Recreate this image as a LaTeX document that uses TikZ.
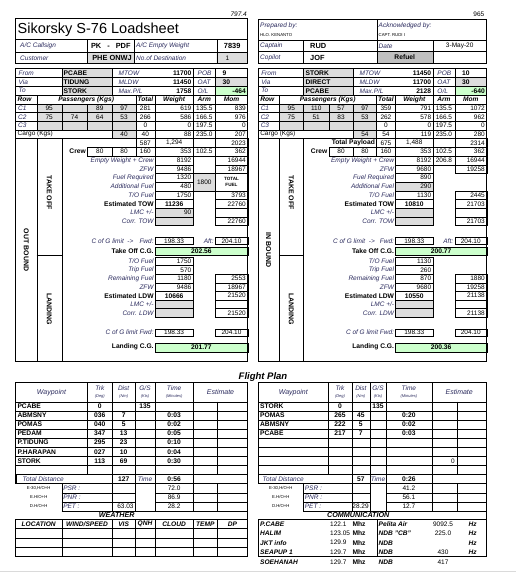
\documentclass[tikz,border=0pt]{standalone}
\usepackage{fontspec}
\setmainfont{Liberation Sans}
\usepackage{tikz}
\usetikzlibrary{positioning}
\usepackage{xcolor}
\definecolor{cellgray}{HTML}{DDDDDD}
\definecolor{refuelgray}{HTML}{C0C0C0}
\definecolor{cggreen}{HTML}{CCFFCC}
\definecolor{lblblue}{HTML}{2B2B5E}
\definecolor{pagegray}{HTML}{DADADA}

% grid of one loadsheet half (left coordinates)
\newcommand{\lowergrid}{%
  \fill[cellgray] (61.7,69) rectangle (112.3,95.1);
  \fill[cellgray] (215.3,77.7) rectangle (247.7,86.4);
  \fill[cggreen] (215.3,86.4) rectangle (247.7,95.1);
  \fill[cellgray] (36.7,103.8) rectangle (135.7,129.9);
  \fill[cellgray] (112.3,129.9) rectangle (135.7,138.6);
  \fill[cellgray] (155,208.2) rectangle (193.3,225.6);
  \fill[cellgray] (155,300) rectangle (193.3,317.2);
  \fill[cggreen] (155,246.7) rectangle (247.7,255.3);
  \fill[cggreen] (155,342.7) rectangle (247.7,351.7);
  % route and passenger rows
  \foreach \y in {77.7, 86.4, 95.1, 103.8, 112.5, 121.2, 129.9, 138.6}
    \draw[cell] (15.7,\y) -- (247.7,\y);
  \draw[cell] (61.7,69) -- (61.7,95.1) (112.3,69) -- (112.3,95.1);
  \foreach \x in {193.3, 215.3} \draw[cell] (\x,69) -- (\x,138.6);
  \foreach \x in {135.7, 155} \draw[cell] (\x,95.1) -- (\x,138.6);
  \draw[cell] (36.7,95.1) -- (36.7,129.9);
  \foreach \x in {61.7, 87.3} \draw[cell] (\x,103.8) -- (\x,129.9);
  \draw[cell] (112.3,103.8) -- (112.3,138.6);
  % take off / landing columns
  \draw[cell] (36.7,138.6) -- (36.7,361.7) (61.7,138.6) -- (61.7,361.7)
    (36.7,255.3) -- (61.7,255.3);
  % payload and crew boxes
  \draw[cell] (135.7,138.6) rectangle (247.7,147.3) (87.3,147.3) rectangle (247.7,156);
  \foreach \x in {155, 193.3, 215.3} \draw[cell] (\x,138.6) -- (\x,156);
  \foreach \x in {112.3, 135.7} \draw[cell] (\x,147.3) -- (\x,156);
  % take off boxes
  \foreach \i in {10,...,17}
    \draw[cell] (155,{69+8.7*\i}) rectangle (193.3,{77.7+8.7*\i});
  \foreach \i in {10,11,14,15,16,17}
    \draw[cell] (215.3,{69+8.7*\i}) rectangle (247.7,{77.7+8.7*\i});
  \draw[cell] (155,237.3) rectangle (193.3,244.5) (215.3,237.3) rectangle (247.7,244.5);
  \draw[cell] (155,246.7) rectangle (247.7,255.3);
  % landing boxes
  \foreach \k in {0,...,6}
    \draw[cell] (155,{257+8.6*\k}) rectangle (193.3,{265.6+8.6*\k});
  \foreach \k in {2,...,6}
    \draw[cell] (215.3,{257+8.6*\k}) rectangle (247.7,{265.6+8.6*\k});
  \draw[cell] (155,328.8) rectangle (193.3,336.5) (215.3,328.8) rectangle (247.7,336.5);
  \draw[cell] (155,342.7) rectangle (247.7,351.7);
  \draw[frame] (15.7,69) rectangle (247.7,361.7);
}

% labels of one loadsheet half
\newcommand{\lowerlabels}[1]{%
  \foreach \n/\y/\a/\b/\c in {1/73.35/From/MTOW/POB, 2/82.05/Via/MLDW/OAT,
      3/90.75/To/{Max.P/L}/{O/L}} {
    \node[lab, anchor=west] (#1route\n) at (18,\y) {\a};
    \node[lab, anchor=west] (#1limit\n) at (118,\y) {\b};
    \node[lab, anchor=west] (#1extra\n) at (197,\y) {\c};
  }
  \node[bit, anchor=west] (#1row) at (17,99.45) {Row};
  \node[bit] (#1pax) at (86.2,99.45) {Passengers (Kgs)};
  \node[bit] (#1tot) at (145.35,99.45) {Total};
  \node[bit] (#1wt) at (174.15,99.45) {Weight};
  \node[bit] (#1arm) at (204.3,99.45) {Arm};
  \node[bit] (#1mom) at (231.5,99.45) {Mom};
  \foreach \n/\y in {1/108.15, 2/116.85, 3/125.55}
    \node[lab, anchor=west] (#1cabin\n) at (17.5,\y) {C\n};
  \node[txt, anchor=west] (#1cargo) at (17,134.25) {Cargo (Kgs)};
  \node[bld, anchor=east] (#1crew) at (86.5,151.65) {Crew};
  % take off
  \foreach \n/\t in {10/Empty Weight + Crew, 11/ZFW, 12/Fuel Required,
      13/Additional Fuel, 14/{T/O Fuel}, 16/{LMC +/-}, 17/Corr. TOW}
    \node[lab, anchor=east] (#1to\n) at (154.3,{73.35+8.7*\n}) {\t};
  \node[bld, anchor=east] (#1to15) at (154.3,203.85) {Estimated TOW};
  \node[lab, anchor=west] (#1cglim) at (91,240.9) {C of G limit \ ->};
  \node[lab, anchor=east] (#1fwd) at (154.3,240.9) {Fwd:};
  \node[lab, anchor=east] (#1aft) at (214.3,240.9) {Aft:};
  \node[bld, anchor=east] (#1tocg) at (154.3,251) {Take Off C.G.};
  % landing
  \foreach \n/\t in {0/{T/O Fuel}, 1/Trip Fuel, 2/Remaining Fuel, 3/ZFW,
      5/{LMC +/-}, 6/Corr. LDW}
    \node[lab, anchor=east] (#1ld\n) at (154.3,{261.3+8.6*\n}) {\t};
  \node[bld, anchor=east] (#1ld4) at (154.3,295.7) {Estimated LDW};
  \node[lab, anchor=east] (#1ldlim) at (154.3,332.65) {C of G limit Fwd:};
  \node[bld, anchor=east] (#1ldcg) at (154.3,347.2) {Landing C.G.};
  \node[vlab] (#1tovert) at (49.2,192.5) {TAKE OFF};
  \node[vlab] (#1ldvert) at (49.2,309) {LANDING};
}

% values that both halves share
\newcommand{\fixedvalues}[1]{%
  \foreach \n/\x/\t in {a/99.8/80, b/124/80, c/145.35/160}
    \node[txt] (#1crew\n) at (\x,151.65) {\t};
  \node[txt, anchor=east] (#1crewwt) at (192,151.65) {353};
  \node[txt] (#1crewarm) at (204.3,151.65) {102.5};
  \node[txt, anchor=east] (#1crewmom) at (246.5,151.65) {362};
  \foreach \n/\y in {to/240.9, ld/332.65} {
    \node[txt] (#1fwd\n) at (174.15,\y) {198.33};
    \node[txt] (#1aft\n) at (231.5,\y) {204.10};
  }
}

\newcommand{\routevalues}[3]{%
  \foreach \n/\y/\nm/\wt/\pob in {#2} {
    \node[bld, anchor=west] (#1name\n) at (63,\y) {\nm};
    \node[bld, anchor=east] (#1lim\n) at (192,\y) {\wt};
    \node[bld, anchor=west] (#1pob\n) at (222,\y) {\pob};
  }
  \node[bld, anchor=east] (#1ol) at (246.5,90.75) {#3};
}

\newcommand{\paxvalues}[2]{%
  \foreach \n/\y/\pa/\pb/\pc/\pd/\ptot/\pwt/\parm/\pmom in {#2} {
    \node[txt] (#1pa\n) at (49.2,\y) {\pa};
    \node[txt] (#1pb\n) at (74.5,\y) {\pb};
    \node[txt] (#1pc\n) at (99.8,\y) {\pc};
    \node[txt] (#1pd\n) at (124,\y) {\pd};
    \node[txt] (#1ptot\n) at (145.35,\y) {\ptot};
    \node[txt, anchor=east] (#1pwt\n) at (192,\y) {\pwt};
    \node[txt] (#1parm\n) at (204.3,\y) {\parm};
    \node[txt, anchor=east] (#1pmom\n) at (246.5,\y) {\pmom};
  }
}

% flight plan grid: 8 column edges, then left edge of PSR labels
\newcommand{\plangrid}[9]{%
  \draw[cell] \foreach \k in {0,...,9} {(#1,{401.7+9.1*\k}) -- (#8,{401.7+9.1*\k})};
  \draw[cell] (#2,382.7) -- (#2,474.5);
  \foreach \x in {#3,#4,#5,#6} \draw[cell] (\x,382.7) -- (\x,510.9);
  \draw[cell] (#7,401.7) -- (#7,474.5) (#7,483.6) -- (#7,510.9) (#9,483.6) -- (#9,510.9);
  \draw[cell] (#9,492.7) -- (#4,492.7) (#5,492.7) -- (#8,492.7)
    (#9,501.8) -- (#4,501.8) (#5,501.8) -- (#8,501.8) (#9,510.9) -- (#8,510.9);
  \draw[frame] (#1,483.6) -- (#1,382.7) -- (#8,382.7) -- (#8,556.7);
}

\newcommand{\planhead}[7]{%
  \node[hlab] (#1wp) at (#2,392.2) {Waypoint};
  \foreach \n/\x/\h/\u in {trk/#3/Trk/(Deg), dist/#4/Dist/(Nm), gs/#5/{G/S}/(Kts),
      time/#6/Time/(Minutes)} {
    \node[lab] (#1\n) at (\x,388.4) {\h};
    \node[unit] (#1\n u) at (\x,396.8) {\u};
  }
  \node[hlab] (#1est) at (#7,392.2) {Estimate};
}

\newcommand{\planrows}[7]{%
  \foreach \n/\wpt/\trk/\dst/\gs/\tm in {#7} {
    \node[bld, anchor=west] (#1wpt\n) at (#2,{406.25+9.1*\n}) {\wpt};
    \node[bld] (#1trk\n) at (#3,{406.25+9.1*\n}) {\trk};
    \node[bld] (#1dst\n) at (#4,{406.25+9.1*\n}) {\dst};
    \node[bld] (#1gs\n) at (#5,{406.25+9.1*\n}) {\gs};
    \node[bld] (#1tm\n) at (#6,{406.25+9.1*\n}) {\tm};
  }
}

\begin{document}
\begin{tikzpicture}[x=1pt, y=-1pt,
  cell/.style={draw, line width=0.4pt},
  frame/.style={draw, line width=1pt},
  txt/.style={inner sep=0.5pt, font=\fontsize{6.5}{7}\selectfont},
  lab/.style={txt, font=\fontsize{6.5}{7}\selectfont\itshape, text=lblblue},
  hlab/.style={lab, font=\fontsize{7}{8}\selectfont\itshape},
  bld/.style={txt, font=\fontsize{6.7}{7}\selectfont\bfseries},
  big/.style={txt, font=\fontsize{7.4}{8}\selectfont\bfseries},
  bit/.style={txt, font=\fontsize{6.6}{7}\selectfont\bfseries\itshape},
  tnote/.style={txt, font=\fontsize{4.3}{4.8}\selectfont},
  unit/.style={txt, font=\fontsize{4}{4.5}\selectfont\itshape, text=lblblue},
  vlab/.style={txt, font=\fontsize{7}{8}\selectfont\bfseries, rotate=-90},
]
  \useasboundingbox (0,0) rectangle (516,575);
  \fill[white] (0,0) rectangle (516,575);

  % Title block
  \fill[cellgray] (87.3,52.3) rectangle (134.3,63.5) (216.7,52.3) rectangle (247.7,63.5);
  \draw[cell] (15.7,39.3) -- (247.7,39.3) (15.7,52.3) -- (247.7,52.3);
  \foreach \x in {87.3, 134.3, 216.7} \draw[cell] (\x,39.3) -- (\x,63.5);
  \draw[frame] (15.7,19) rectangle (247.7,63.5);
  \node[anchor=west, inner sep=0pt, font=\fontsize{14.5}{15}\selectfont] (title)
    at (17.5,29.3) {Sikorsky S-76 Loadsheet};
  \node[txt, font=\fontsize{6.5}{7}\selectfont\itshape, anchor=east] (lcheck) at (247.5,13.8) {797.4};
  \node[lab, anchor=west] (callsignlab) at (19.5,45.8) {A/C Callsign};
  \node[big] (callsign) at (110.8,45.8) {PK\hspace{6pt}-\hspace{6pt}PDF};
  \node[lab, anchor=west] (emptylab) at (135.5,45.8) {A/C Empty Weight};
  \node[big] (emptywt) at (232.2,45.8) {7839};
  \node[lab, anchor=west] (customerlab) at (19.5,57.9) {Customer};
  \node[big] (customer) at (112,57.9) {PHE ONWJ};
  \node[lab, anchor=west] (destlab) at (135.5,57.9) {No.of Destination};
  \node[txt, anchor=west] (dest) at (225,57.9) {1};

  % Crew block
  \fill[refuelgray] (376.7,51.7) rectangle (432.7,63.3);
  \draw[cell] (258.3,40.7) -- (486.7,40.7) (258.3,51.7) -- (486.7,51.7);
  \draw[cell] (376.7,20) -- (376.7,63.3);
  \foreach \x in {303.3, 432.7} \draw[cell] (\x,40.7) -- (\x,63.3);
  \draw[frame] (258.3,20) rectangle (486.7,63.3);
  \node[txt, anchor=east] (rcheck) at (485,13.8) {965};
  \node[lab, anchor=west] (preplab) at (259.5,25.5) {Prepared by:};
  \node[tnote, anchor=west] (prep) at (259.5,34.8) {HLO. KENANTO};
  \node[lab, anchor=west] (acklab) at (378,25.5) {Acknowledged by:};
  \node[tnote, anchor=west] (ack) at (378,35.5) {CAPT. RUDI I};
  \node[lab, anchor=west] (captlab) at (259.5,46.2) {Captain};
  \node[big, anchor=west] (capt) at (309.5,46.2) {RUD};
  \node[lab, anchor=west] (datelab) at (378,46.2) {Date};
  \node[txt] (date) at (459.7,46.2) {3-May-20};
  \node[lab, anchor=west] (coplab) at (259.5,57.5) {Copilot};
  \node[big, anchor=west] (cop) at (309.5,57.5) {JOF};
  \node[bld] (refuel) at (404.7,57.5) {Refuel};

  % Out bound sheet
  \fill[cellgray] (193.3,173.4) rectangle (215.3,190.8);
  \lowergrid
  \draw[cell] (193.3,173.4) rectangle (247.7,190.8) (215.3,173.4) -- (215.3,190.8);
  \lowerlabels{l}
  \fixedvalues{l}
  \node[vlab] (lbound) at (26.2,250) {OUT BOUND};
  \routevalues{l}{1/73.35/PCABE/11700/9, 2/82.05/TIDUNG/11450/30, 3/90.75/STORK/1758/{}}{-464}
  \paxvalues{l}{1/108.15/95/{}/89/97/281/619/135.5/839,
    2/116.85/75/74/64/53/266/586/166.5/976,
    3/125.55/{}/{}/{}/{}/0/0/197.5/0,
    4/134.25/{}/{}/{}/40/40/88/235.0/207}
  \node[txt] (ltotpay) at (145.35,142.95) {587};
  \node[txt] (lwtpay) at (174.15,142.95) {1,294};
  \node[txt, anchor=east] (lmompay) at (246.5,142.95) {2023};
  \foreach \n/\t in {10/8192, 11/9486, 12/1320, 13/480, 14/1750, 16/90}
    \node[txt, anchor=east] (ltw\n) at (192,{73.35+8.7*\n}) {\t};
  \node[bld] (ltw15) at (174.15,203.85) {11236};
  \foreach \n/\t in {10/16944, 11/18967, 14/3793, 15/22760, 17/22760}
    \node[txt, anchor=east] (ltm\n) at (246.5,{73.35+8.7*\n}) {\t};
  \node[txt] (lfuel) at (204.3,182.1) {1800};
  \node[txt, font=\fontsize{4.6}{5.6}\selectfont\bfseries, align=center] (ltotfuel)
    at (231.5,182.1) {TOTAL\\FUEL};
  \node[bld] (ltocgval) at (201.35,251) {202.56};
  \foreach \n/\t in {0/1750, 1/570, 2/1180, 3/9486}
    \node[txt, anchor=east] (llw\n) at (192,{261.3+8.6*\n}) {\t};
  \node[bld] (llw4) at (174.15,295.7) {10666};
  \foreach \n/\t in {2/2553, 3/18967, 4/21520, 6/21520}
    \node[txt, anchor=east] (llm\n) at (246.5,{261.3+8.6*\n}) {\t};
  \node[bld] (llcgval) at (201.35,347.2) {201.77};

  % In bound sheet
  \begin{scope}[xshift=242.84pt, xscale=0.9845]
    \fill[cellgray] (155,182.1) rectangle (193.3,190.8);
    \lowergrid
    \draw[cell] (193.3,156) rectangle (215.3,164.7);
    \lowerlabels{r}
    \fixedvalues{r}
    \node[vlab] (rbound) at (26.2,250) {IN BOUND};
    \routevalues{r}{1/73.35/STORK/11450/10, 2/82.05/DIRECT/11700/30, 3/90.75/PCABE/2128/{}}{-640}
    \paxvalues{r}{1/108.15/95/110/57/97/359/791/135.5/1072,
      2/116.85/75/51/83/53/262/578/166.5/962,
      3/125.55/{}/{}/{}/{}/0/0/197.5/0,
      4/134.25/{}/{}/{}/54/54/119/235.0/280}
    \node[bld, anchor=east] (rpayload) at (134.8,142.95) {Total Payload};
    \node[txt] (rtotpay) at (145.35,142.95) {675};
    \node[txt] (rwtpay) at (174.15,142.95) {1,488};
    \node[txt, anchor=east] (rmompay) at (246.5,142.95) {2314};
    \foreach \n/\t in {10/8192, 11/9680, 12/890, 13/290, 14/1130}
      \node[txt, anchor=east] (rtw\n) at (192,{73.35+8.7*\n}) {\t};
    \node[bld] (rtw15) at (174.15,203.85) {10810};
    \node[txt] (rewarm) at (204.3,160.35) {206.8};
    \foreach \n/\t in {10/16944, 11/19258, 14/2445, 15/21703, 17/21703}
      \node[txt, anchor=east] (rtm\n) at (246.5,{73.35+8.7*\n}) {\t};
    \node[bld] (rtocgval) at (201.35,251) {200.77};
    \foreach \n/\t in {0/1130, 1/260, 2/870, 3/9680}
      \node[txt, anchor=east] (rlw\n) at (192,{261.3+8.6*\n}) {\t};
    \node[bld] (rlw4) at (174.15,295.7) {10550};
    \foreach \n/\t in {2/1880, 3/19258, 4/21138, 6/21138}
      \node[txt, anchor=east] (rlm\n) at (246.5,{261.3+8.6*\n}) {\t};
    \node[bld] (rlcgval) at (201.35,347.2) {200.36};
  \end{scope}

  % Flight plan
  \node[font=\fontsize{9.5}{10}\selectfont\bfseries\itshape, inner sep=0pt] (plantitle)
    at (263,377) {Flight Plan};
  \plangrid{15.7}{87.3}{112.3}{135}{155}{193.3}{217.3}{247.7}{61.7}
  \draw[line width=1.8pt] (16.5,474.5) -- (16.5,483.6);
  \plangrid{258.3}{328.3}{351.7}{370}{386}{431.7}{456.7}{486.7}{303.3}
  \planhead{lp}{51.5}{99.8}{123.65}{145}{174.15}{220.5}
  \planhead{rp}{293.3}{340}{360.85}{378}{408.85}{459.2}
  \planrows{lp}{16.8}{99.8}{123.65}{145}{174.15}{0/PCABE/0/{}/135/{},
    1/ABMSNY/036/7/{}/0:03, 2/POMAS/040/5/{}/0:02, 3/PEDAM/347/13/{}/0:05,
    4/P.TIDUNG/295/23/{}/0:10, 5/P.HARAPAN/027/10/{}/0:04, 6/STORK/113/69/{}/0:30}
  \planrows{rp}{259.4}{340}{360.85}{378}{408.85}{0/STORK/0/{}/135/{},
    1/POMAS/265/45/{}/0:20, 2/ABMSNY/222/5/{}/0:02, 3/PCABE/217/7/{}/0:03}
  \node[txt, anchor=east] (rpest6) at (455.5,460.85) {0};
  % Totals
  \node[lab, anchor=west] (lptotal) at (22,479.05) {Total Distance};
  \node[bld] (lptotnm) at (123.65,479.05) {127};
  \node[lab] (lptime) at (145,479.05) {Time};
  \node[bld] (lptottime) at (174.15,479.05) {0:56};
  \node[lab, anchor=west] (rptotal) at (262,479.05) {Total Distance};
  \node[bld] (rptotnm) at (360.85,479.05) {57};
  \node[lab] (rptime) at (378,479.05) {Time};
  \node[bld] (rptottime) at (408.85,479.05) {0:26};
  % PSR / PNR / PET
  \foreach \n/\cond/\pt/\ltm/\rtm in {0/{E-30,H/O+H}/{PSR :}/72.0/41.2,
      1/{E.H/O+H}/{PNR :}/86.9/56.1, 2/{D.H/O+H}/{PET :}/28.2/12.7} {
    \node[tnote] (lpcond\n) at (38.7,{488.15+9.1*\n}) {\cond};
    \node[lab, anchor=west] (lppt\n) at (62.6,{488.15+9.1*\n}) {\pt};
    \node[txt] (lppttm\n) at (174.15,{488.15+9.1*\n}) {\ltm};
    \node[tnote] (rpcond\n) at (280.8,{488.15+9.1*\n}) {\cond};
    \node[lab, anchor=west] (rppt\n) at (304.2,{488.15+9.1*\n}) {\pt};
    \node[txt] (rppttm\n) at (408.85,{488.15+9.1*\n}) {\rtm};
  }
  \node[txt, anchor=east] (lppetnm) at (134.3,506.35) {63.03};
  \node[txt, anchor=east] (rppetnm) at (369.4,506.35) {28.29};

  % Weather
  \draw[frame] (15.7,519.5) rectangle (247.7,556.7);
  \foreach \x in {61.7, 112.3, 135, 155, 193.3, 217.3} \draw[cell] (\x,519.5) -- (\x,556.7);
  \foreach \y in {528.6, 538, 547.3} \draw[cell] (15.7,\y) -- (247.7,\y);
  \node[bit, font=\fontsize{7.2}{8}\selectfont\bfseries\itshape] (weather) at (116.7,515.2) {WEATHER};
  \foreach \n/\x/\t in {loc/38.7/LOCATION, wind/87/{WIND/SPEED}, vis/123.65/VIS,
      qnh/145/QNH, cloud/174.15/CLOUD, temp/205.3/TEMP, dp/232.5/DP}
    \node[bit] (w\n) at (\x,524.05) {\t};

  % Communication
  \draw[frame] (258.3,519.5) rectangle (486.7,556.7);
  \draw[cell] (376.7,519.5) -- (376.7,556.7);
  \node[bit, font=\fontsize{7.2}{8}\selectfont\bfseries\itshape] (comm) at (358.3,515.2) {COMMUNICATION};
  \foreach \n/\y/\st/\fq/\nd/\val/\hz in {0/524.15/P.CABE/122.1/Pelita Air/9092.5/Hz,
      1/533.45/HALIM/123.05/NDB "CB"/225.0/Hz, 2/542.75/JKT info/129.9/NDB/{}/Hz,
      3/552.05/SEAPUP 1/129.7/NDB/430/Hz, 4/562/SOEHANAH/129.7/NDB/417/{}} {
    \node[bit, anchor=west] (st\n) at (259.5,\y) {\st};
    \node[txt, anchor=west] (fq\n) at (329.5,\y) {\fq};
    \node[bld, anchor=west] (mhz\n) at (351.8,\y) {Mhz};
    \node[bit, anchor=west] (nd\n) at (378,\y) {\nd};
    \node[txt] (val\n) at (443,\y) {\val};
    \node[bit, anchor=west] (hz\n) at (468,\y) {\hz};
  }

  % page edge
  \draw[pagegray, line width=0.8pt] (0,571.7) -- (516,571.7);
\end{tikzpicture}
\end{document}
